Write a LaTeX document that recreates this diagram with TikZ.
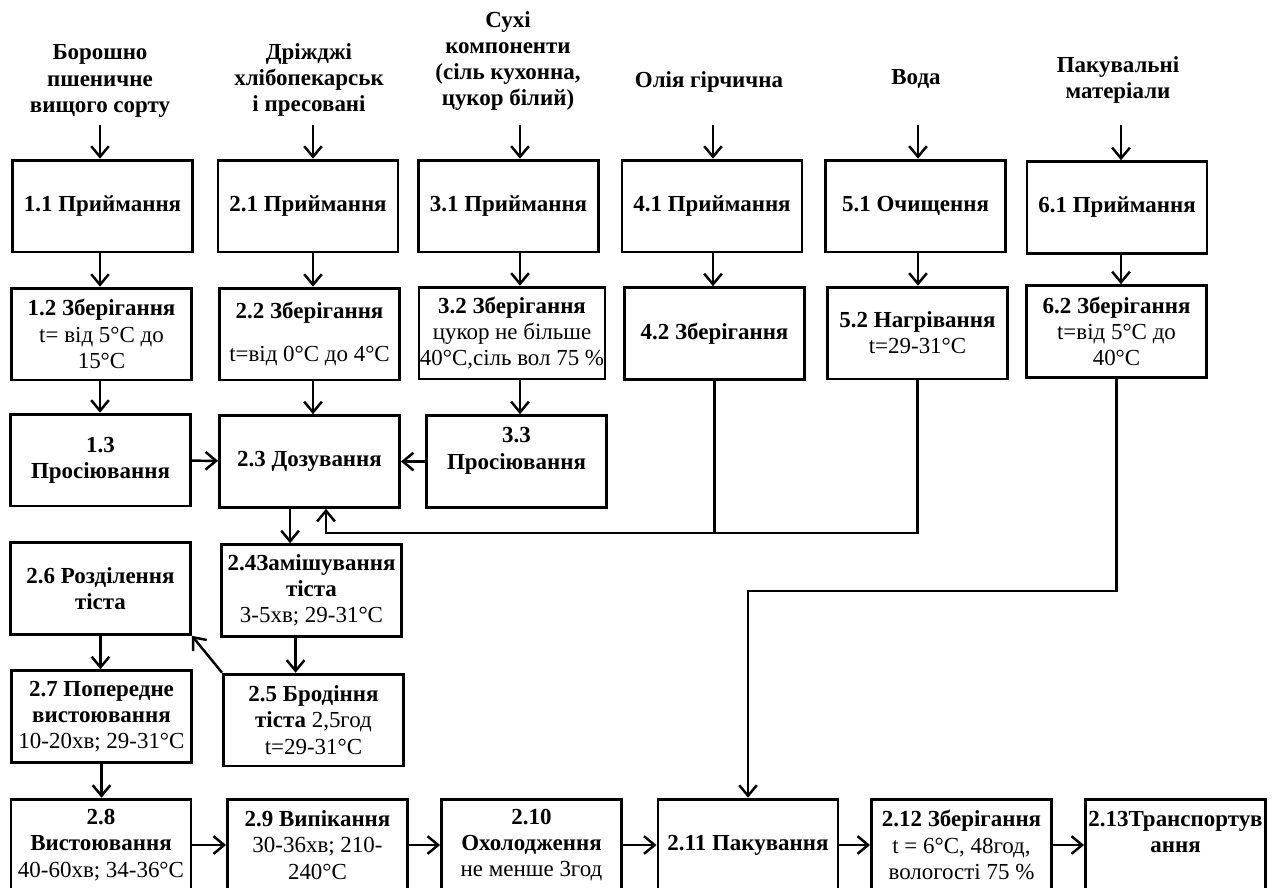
\documentclass[tikz,border=0pt]{standalone}
\usepackage{fontspec}
\setmainfont{Liberation Serif}
\usetikzlibrary{arrows.meta}

\begin{document}
\begin{tikzpicture}[x=0.5664pt, y=-0.5664pt,
            main node/.style={draw, line width=1.6pt, minimum width=102pt, minimum height=52pt,
                inner sep=0.5pt, align=center, font=\fontsize{13}{14.8}\selectfont},
            input node/.style={align=center, font=\fontsize{13}{14.8}\selectfont\bfseries},
            flow/.style={line width=1.4pt, -{Straight Barb[length=6pt,width=10pt]}},
            ]
            \useasboundingbox (0,0) rectangle (1280,887);
            \clip (0,0) rectangle (1280,887);

            % raw materials
            \node[input node] (in1) at (100,81) {Борошно\\пшеничне\\вищого сорту};
            \node[input node] (in2) at (309,80) {Дріжджі\\хлібопекарськ\\і пресовані};
            \node[input node] (in3) at (508,61) {Сухі\\компоненти\\(сіль кухонна,\\цукор білий)};
            \node[input node] (in4) at (709,82) {Олія гірчична};
            \node[input node] (in5) at (916,79) {Вода};
            \node[input node] (in6) at (1118,80) {Пакувальні\\матеріали};

            \coordinate (t1) at (100,125);
            \coordinate (t2) at (313,125);
            \coordinate (t3) at (520,125);
            \coordinate (t4) at (713,125);
            \coordinate (t5) at (918,125);
            \coordinate (t6) at (1121,125);

            % first row
            \node[main node] (n11) at (102.5,206) {\textbf{1.1 Приймання}};
            \node[main node] (n21) at (308,206) {\textbf{2.1 Приймання}};
            \node[main node] (n31) at (508.5,206) {\textbf{3.1 Приймання}};
            \node[main node] (n41) at (712,206) {\textbf{4.1 Приймання}};
            \node[main node] (n51) at (915.5,206) {\textbf{5.1 Очищення}};
            \node[main node] (n61) at (1117,207.5) {\textbf{6.1 Приймання}};

            % second row
            \node[main node] (n12) at (101.5,334) {\textbf{1.2 Зберігання}\\t= від 5°C до\\15°C};
            \node[main node] (n22) at (309.5,334) {\textbf{2.2 Зберігання}\\[10pt]t=від 0°C до 4°C};
            \node[main node] (n32) at (512,333) {\textbf{3.2 Зберігання}\\цукор не більше\\40°C,сіль вол 75 \%};
            \node[main node] (n42) at (714.5,333.5) {\textbf{4.2 Зберігання}};
            \node[main node] (n52) at (917.5,333) {\textbf{5.2 Нагрівання}\\t=29-31°C};
            \node[main node] (n62) at (1116.5,331.5) {\textbf{6.2 Зберігання}\\t=від 5°C до\\40°C};

            % third row
            \node[main node] (n13) at (100.5,460) {\textbf{1.3}\\\textbf{Просіювання}};
            \node[main node] (n23) at (309.5,461.5) {\textbf{2.3 Дозування}};
            \node[main node] (n33) at (516.5,461.5) {\textbf{3.3}\\\textbf{Просіювання}\\\mbox{}};

            % dough
            \node[main node] (n26) at (100.5,588.5) {\textbf{2.6 Розділення}\\\textbf{тіста}};
            \node[main node] (n24) at (311.5,590.5) {\textbf{2.4Замішування}\\\textbf{тіста}\\3-5хв; 29-31°C};
            \node[main node] (n27) at (101.5,716.5) {\textbf{2.7 Попередне}\\\textbf{вистоювання}\\10-20хв; 29-31°C};
            \node[main node] (n25) at (313.5,720) {\textbf{2.5 Бродіння}\\\textbf{тіста} 2,5год\\t=29-31°C};

            % last row
            \node[main node] (n28) at (101,845) {\textbf{2.8}\\\textbf{Вистоювання}\\40-60хв; 34-36°C};
            \node[main node] (n29) at (317.5,845) {\textbf{2.9 Випікання}\\30-36хв; 210-\\240°C};
            \node[main node] (n210) at (531.5,845) {\textbf{2.10}\\\textbf{Охолодження}\\не менше 3год};
            \node[main node] (n211) at (748,845) {\textbf{2.11 Пакування}};
            \node[main node] (n212) at (961.5,845) {\textbf{2.12 Зберігання}\\t = 6°C, 48год,\\вологості 75 \%};
            \node[main node] (n213) at (1175.5,845) {\textbf{2.13Транспортув}\\\textbf{ання}\\\mbox{}};

            \draw[flow] (t1) -- (t1 |- n11.north);
            \draw[flow] (t2) -- (t2 |- n21.north);
            \draw[flow] (t3) -- (t3 |- n31.north);
            \draw[flow] (t4) -- (t4 |- n41.north);
            \draw[flow] (t5) -- (t5 |- n51.north);
            \draw[flow] (t6) -- (t6 |- n61.north);

            \draw[flow] (t1 |- n11.south) -- (t1 |- n12.north);
            \draw[flow] (t2 |- n21.south) -- (t2 |- n22.north);
            \draw[flow] (t3 |- n31.south) -- (t3 |- n32.north);
            \draw[flow] (t4 |- n41.south) -- (t4 |- n42.north);
            \draw[flow] (t5 |- n51.south) -- (t5 |- n52.north);
            \draw[flow] (t6 |- n61.south) -- (t6 |- n62.north);

            \draw[flow] (t1 |- n12.south) -- (t1 |- n13.north);
            \draw[flow] (t2 |- n22.south) -- (t2 |- n23.north);
            \draw[flow] (t3 |- n32.south) -- (t3 |- n33.north);
            \draw[flow] (n13) -- (n23);
            \draw[flow] (n33) -- (n23);

            % oil and water back to dosing
            \coordinate (fb) at (326,533);
            \draw[line width=1.4pt] (n42.south) |- (fb);
            \draw[flow] (n52.south) |- (fb) -- (fb |- n23.south);

            \draw[flow] ([xshift=-11pt]n23.south) -- ([xshift=-11pt]n23.south |- n24.north);
            \draw[flow] ([xshift=-9pt]n24.south) -- ([xshift=-9pt]n24.south |- n25.north);
            \draw[flow] (n25.north west) -- (n26.south east);
            \draw[flow] (n26.south) -- (n26.south |- n27.north);
            \draw[flow] (n27.south) -- (n27.south |- n28.north);

            \draw[flow] (n28) -- (n29);
            \draw[flow] (n29) -- (n210);
            \draw[flow] (n210) -- (n211);
            \draw[flow] (n211) -- (n212);
            \draw[flow] (n212) -- (n213);

            % packaging
            \coordinate (pk) at (748,591);
            \draw[flow] (n62.south) |- (pk) -- (n211.north);
        \end{tikzpicture}
\end{document}
